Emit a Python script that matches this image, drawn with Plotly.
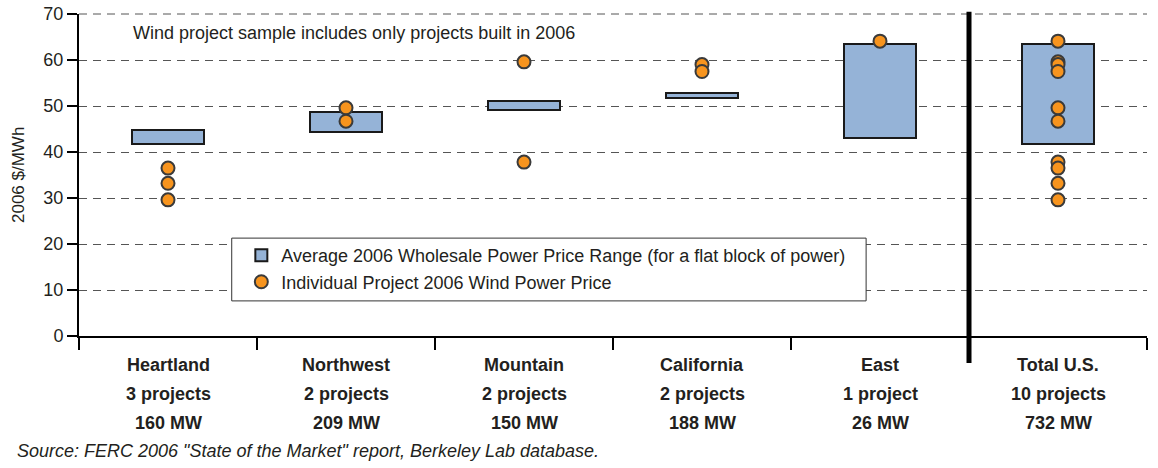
import plotly.graph_objects as go

# ---- data ----
regions = ["Heartland", "Northwest", "Mountain", "California", "East", "Total U.S."]
project_counts = ["3 projects", "2 projects", "2 projects", "2 projects", "1 project", "10 projects"]
capacity_mw = ["160 MW", "209 MW", "150 MW", "188 MW", "26 MW", "732 MW"]
wholesale_low = [41.7, 44.4, 49.1, 51.7, 43.1, 41.7]
wholesale_high = [44.8, 48.7, 51.0, 52.9, 63.5, 63.5]

wind_region = ["Heartland", "Heartland", "Heartland",
               "Northwest", "Northwest",
               "Mountain", "Mountain",
               "California", "California",
               "East",
               "Total U.S.", "Total U.S.", "Total U.S.", "Total U.S.", "Total U.S.",
               "Total U.S.", "Total U.S.", "Total U.S.", "Total U.S.", "Total U.S."]
wind_price = [36.5, 33.2, 29.6,
              49.6, 46.7,
              59.6, 37.8,
              59.0, 57.5,
              64.1,
              64.1, 59.6, 59.0, 57.5, 49.6, 46.7, 37.8, 36.5, 33.2, 29.6]

y_ticks = [0, 10, 20, 30, 40, 50, 60, 70]

FONT = "Liberation Sans, Arial, Helvetica, sans-serif"
TXT = "#231f20"
GRID = "#555555"

xpos = list(range(len(regions)))
x_range = [-0.5, len(regions) - 0.5]
y_range = [y_ticks[0], y_ticks[-1]]
idx = {r: i for i, r in enumerate(regions)}

fig = go.Figure()
fig.add_trace(go.Bar(
    x=xpos,
    y=[h - l for h, l in zip(wholesale_high, wholesale_low)],
    base=wholesale_low,
    width=0.405,
    marker=dict(color="#95b3d7", line=dict(color="#1a1a1a", width=2)),
    name="Average 2006 Wholesale Power Price Range (for a flat block of power)",
))
fig.add_trace(go.Scatter(
    x=[idx[r] for r in wind_region],
    y=wind_price,
    mode="markers",
    marker=dict(color="#f7941e", size=13, line=dict(color="#3a3a3a", width=2)),
    name="Individual Project 2006 Wind Power Price",
))

annotations = []
label_rows = [(regions, -0.090), (project_counts, -0.180), (capacity_mw, -0.270)]
for texts, yp in label_rows:
    for i, t in enumerate(texts):
        annotations.append(dict(
            x=i, xref="x", y=yp, yref="paper", text=f"<b>{t}</b>",
            showarrow=False, xanchor="center", yanchor="middle",
            font=dict(family=FONT, size=18, color=TXT)))

annotations.append(dict(
    x=0.049, y=0.941, xref="paper", yref="paper",
    text="Wind project sample includes only projects built in 2006",
    showarrow=False, xanchor="left", yanchor="middle",
    font=dict(family=FONT, size=18, color=TXT)))
annotations.append(dict(
    x=-0.060, y=-0.357, xref="paper", yref="paper",
    text="<i>Source: FERC 2006 \"State of the Market\" report, Berkeley Lab database.</i>",
    showarrow=False, xanchor="left", yanchor="middle",
    font=dict(family=FONT, size=18, color=TXT)))
annotations.append(dict(
    x=-0.0571, y=0.5, xref="paper", yref="paper", textangle=-90,
    text="2006 $/MWh", showarrow=False, xanchor="center", yanchor="middle",
    font=dict(family=FONT, size=17, color=TXT)))

sep_x = (4.5 - x_range[0]) / (x_range[1] - x_range[0])
shapes = [
    # top gridline (at the upper end of the y range)
    dict(type="line", xref="x domain", yref="y domain", x0=0, x1=1, y0=1, y1=1,
         line=dict(color=GRID, width=1, dash="8px,6px"), layer="above"),
    dict(type="line", xref="x domain", yref="y domain", x0=sep_x, x1=sep_x,
         y0=-0.084, y1=1.007, line=dict(color="black", width=5)),
    dict(type="rect", xref="paper", yref="paper", x0=0.143, x1=0.737, y0=0.109, y1=0.304,
         line=dict(color="#333333", width=1), fillcolor="white", layer="above"),
]

fig.update_layout(
    width=1158, height=468,
    margin=dict(l=79, r=11, t=14, b=132, autoexpand=False),
    paper_bgcolor="white", plot_bgcolor="white",
    font=dict(family=FONT, color=TXT),
    showlegend=True,
    legend=dict(x=0.152, y=0.307, xanchor="left", yanchor="top",
                bgcolor="rgba(0,0,0,0)", borderwidth=0,
                font=dict(family=FONT, size=18, color=TXT),
                tracegroupgap=0),
    annotations=annotations,
    shapes=shapes,
    bargap=0,
)
fig.update_xaxes(
    range=x_range, showgrid=False, zeroline=False, automargin=False,
    showline=True, linecolor="black", linewidth=2,
    tickmode="array", tickvals=[i - 0.5 for i in range(len(regions) + 1)],
    ticks="outside", ticklen=12, tickwidth=1.5, tickcolor="black",
    showticklabels=False,
)
fig.update_yaxes(
    range=y_range, tickmode="array", tickvals=y_ticks, automargin=False,
    showgrid=True, gridcolor=GRID, gridwidth=1, griddash="8px,6px",
    zeroline=False, showline=True, linecolor="black", linewidth=2,
    ticks="outside", ticklen=10, tickwidth=1.5, tickcolor="black",
    tickfont=dict(family=FONT, size=18, color=TXT),
)

# remove the page's default 8px body margin so the figure sits at the window's corner
fig.write_html("out.html", config={"displayModeBar": False},
               post_script="document.body.style.margin='0';")
